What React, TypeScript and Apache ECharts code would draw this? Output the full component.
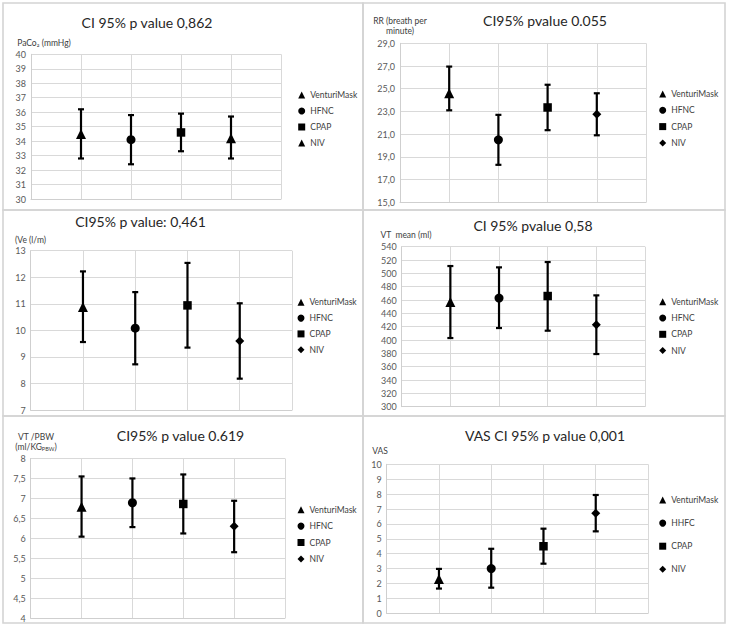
import React, { useEffect, useRef } from 'react';
import * as echarts from 'echarts';

// ---------- data ----------
const groups = ['VenturiMask', 'HFNC', 'CPAP', 'NIV'];
const groupsVas = ['VenturiMask', 'HHFC', 'CPAP', 'NIV'];
const xPositions = [1, 2, 3, 4];

const titles = [
  'CI 95% p value 0,862',
  'CI95% pvalue 0.055',
  'CI95% p value: 0,461',
  'CI 95% pvalue 0,58',
  'CI95% p value 0.619',
  'VAS CI 95% p value 0,001',
];

const paco2Mean = [34.5, 34.1, 34.6, 34.2];
const paco2Low = [32.8, 32.4, 33.3, 32.8];
const paco2High = [36.2, 35.8, 35.9, 35.7];

const rrMean = [24.6, 20.5, 23.35, 22.75];
const rrLow = [23.1, 18.3, 21.35, 20.9];
const rrHigh = [26.95, 22.7, 25.35, 24.6];

const veMean = [10.88, 10.08, 10.94, 9.6];
const veLow = [9.56, 8.72, 9.35, 8.18];
const veHigh = [12.22, 11.44, 12.54, 11.02];

const vtMean = [457, 463, 466, 423];
const vtLow = [403, 418, 414, 379];
const vtHigh = [511, 509, 517, 467];

const vtPbwMean = [6.79, 6.89, 6.86, 6.3];
const vtPbwLow = [6.04, 6.28, 6.12, 5.65];
const vtPbwHigh = [7.55, 7.5, 7.6, 6.94];

const vasMean = [2.3, 3.0, 4.5, 6.72];
const vasLow = [1.66, 1.72, 3.33, 5.5];
const vasHigh = [2.98, 4.33, 5.68, 7.94];

// ---------- layout / style ----------
const comma = (v: number) => String(v).replace('.', ',');
const comma1 = (v: number) => v.toFixed(1).replace('.', ',');

const FONT = 'Lato';

const panels = [
  {
    title: titles[0], names: groups, mean: paco2Mean, low: paco2Low, high: paco2High,
    symbols: ['triangle', 'circle', 'rect', 'triangle'],
    yMin: 30, yMax: 40, yInt: 1, fmt: (v: number) => String(v),
    grid: { left: 31, top: 54.3, width: 250, height: 144.7 },
    box: { x: 3, y: 3, w: 360, h: 207 },
    titleXY: [147, 22],
    yName: { text: 'PaCo₂ (mmHg)', x: 44, y: 43 },
    legend: { x: 301.7, y: 95, step: 16 },
  },
  {
    title: titles[1], names: groups, mean: rrMean, low: rrLow, high: rrHigh,
    symbols: ['triangle', 'circle', 'rect', 'diamond'],
    yMin: 15, yMax: 29, yInt: 2, fmt: comma1,
    grid: { left: 400, top: 43.3, width: 246, height: 159 },
    box: { x: 363, y: 3, w: 362, h: 207 },
    titleXY: [545, 20],
    yName: { text: 'RR (breath per\nminute)', x: 400, y: 26 },
    legend: { x: 662.7, y: 94, step: 16.3 },
  },
  {
    title: titles[2], names: groups, mean: veMean, low: veLow, high: veHigh,
    symbols: ['triangle', 'circle', 'rect', 'diamond'],
    yMin: 7, yMax: 13, yInt: 1, fmt: (v: number) => String(v),
    grid: { left: 30.7, top: 250.7, width: 261.3, height: 159.3 },
    box: { x: 3, y: 210, w: 360, h: 206 },
    titleXY: [140.5, 221],
    yName: { text: '(Ve (l/m)', x: 30.5, y: 240 },
    legend: { x: 301, y: 302.3, step: 15.8 },
  },
  {
    title: titles[3], names: groups, mean: vtMean, low: vtLow, high: vtHigh,
    symbols: ['triangle', 'circle', 'rect', 'diamond'],
    yMin: 300, yMax: 540, yInt: 20, fmt: (v: number) => String(v),
    grid: { left: 401.7, top: 246.7, width: 243.3, height: 160 },
    box: { x: 363, y: 210, w: 362, h: 206 },
    titleXY: [533, 225],
    yName: { text: 'VT  mean (ml)', x: 406, y: 235 },
    legend: { x: 662.7, y: 301.7, step: 16.3 },
  },
  {
    title: titles[4], names: groups, mean: vtPbwMean, low: vtPbwLow, high: vtPbwHigh,
    symbols: ['triangle', 'circle', 'rect', 'diamond'],
    yMin: 4, yMax: 8, yInt: 0.5, fmt: comma,
    grid: { left: 30.7, top: 458.5, width: 254.3, height: 159.5 },
    box: { x: 3, y: 416, w: 360, h: 207 },
    titleXY: [180.5, 435],
    yName: { text: 'VT /PBW\n(ml/KG{sub|PBW})', x: 36, y: 441.5 },
    legend: { x: 301, y: 509.7, step: 16.4 },
  },
  {
    title: titles[5], names: groupsVas, mean: vasMean, low: vasLow, high: vasHigh,
    symbols: ['triangle', 'circle', 'rect', 'diamond'],
    yMin: 0, yMax: 10, yInt: 1, fmt: (v: number) => String(v),
    grid: { left: 386.7, top: 464.3, width: 261.3, height: 149 },
    box: { x: 363, y: 416, w: 362, h: 207 },
    titleXY: [545, 435],
    yName: { text: 'VAS', x: 380, y: 451 },
    legend: { x: 662.7, y: 500, step: 23.1 },
  },
];

const symbolSizes: Record<string, number> = { triangle: 10, circle: 9, rect: 8.5, diamond: 9 };
const GRID_COLOR = '#d9d9d9';

function buildOption() {
  const grid: any[] = [];
  const xAxis: any[] = [];
  const yAxis: any[] = [];
  const series: any[] = [];
  const legend: any[] = [];
  const graphic: any[] = [];

  panels.forEach((p, i) => {
    grid.push({ ...p.grid, containLabel: false });
    xAxis.push({
      type: 'value', gridIndex: i, min: 0, max: 5, interval: 1,
      axisLabel: { show: false }, axisTick: { show: false },
      axisLine: { show: true, lineStyle: { color: '#cfcfcf', width: 1 } },
      splitLine: { show: true, lineStyle: { color: GRID_COLOR, width: 1 } },
    });
    yAxis.push({
      type: 'value', gridIndex: i, min: p.yMin, max: p.yMax, interval: p.yInt,
      axisTick: { show: false },
      axisLine: { show: true, lineStyle: { color: '#cfcfcf', width: 1 } },
      splitLine: { show: true, lineStyle: { color: GRID_COLOR, width: 1 } },
      axisLabel: { formatter: p.fmt, fontSize: 9, fontFamily: FONT, color: '#595959', margin: 5 },
    });
    series.push({
      type: 'custom', name: 'ci-' + i, xAxisIndex: i, yAxisIndex: i, silent: true, z: 2,
      data: xPositions.map((x, k) => [x, p.low[k], p.high[k]]),
      encode: { x: 0, y: [1, 2] },
      renderItem: (params: any, api: any) => {
        const x = api.value(0);
        const lo = api.coord([x, api.value(1)]);
        const hi = api.coord([x, api.value(2)]);
        const cw = 3;
        const st = { stroke: '#000', lineWidth: 2.2 };
        return {
          type: 'group',
          children: [
            { type: 'line', shape: { x1: lo[0], y1: lo[1], x2: hi[0], y2: hi[1] }, style: st },
            { type: 'line', shape: { x1: lo[0] - cw, y1: lo[1], x2: lo[0] + cw, y2: lo[1] }, style: st },
            { type: 'line', shape: { x1: hi[0] - cw, y1: hi[1], x2: hi[0] + cw, y2: hi[1] }, style: st },
          ],
        };
      },
    });
    p.names.forEach((n, k) => {
      series.push({
        type: 'scatter', name: n, xAxisIndex: i, yAxisIndex: i, z: 3,
        symbol: p.symbols[k], symbolSize: symbolSizes[p.symbols[k]],
        itemStyle: { color: '#000', opacity: 1 },
        data: [[xPositions[k], p.mean[k]]],
      });
    });
    legend.push({
      orient: 'vertical', left: p.legend.x - 3.5, top: p.legend.y - 5,
      itemWidth: 7, itemHeight: 7, itemGap: p.legend.step - 10, padding: 0,
      selectedMode: false,
      data: p.names.map((n, k) => ({ name: n, icon: p.symbols[k] })),
      itemStyle: { color: '#000' },
      textStyle: { fontSize: 8.5, fontFamily: FONT, color: '#404040', lineHeight: 10 },
    });
    graphic.push({
      type: 'rect', silent: true, z: 0,
      shape: { x: p.box.x, y: p.box.y, width: p.box.w, height: p.box.h },
      style: { fill: 'none', stroke: '#d4d4d4', lineWidth: 1.6 },
    });
    graphic.push({
      type: 'text', silent: true, x: p.titleXY[0], y: p.titleXY[1],
      style: {
        text: p.title, fontSize: 14, fontFamily: FONT, fill: '#262626',
        align: 'center', verticalAlign: 'middle',
      },
    });
    graphic.push({
      type: 'text', silent: true, x: p.yName.x, y: p.yName.y,
      style: {
        text: p.yName.text, fontSize: 8.5, fontFamily: FONT, fill: '#404040', lineHeight: 10,
        align: 'center', verticalAlign: 'middle',
        rich: { sub: { fontSize: 5.5, lineHeight: 4, verticalAlign: 'bottom', fontFamily: FONT, fill: '#404040' } },
      },
    });
  });

  return {
    animation: false,
    backgroundColor: '#ffffff',
    grid, xAxis, yAxis, series, legend, graphic,
  };
}

export default function App() {
  const ref = useRef<HTMLDivElement>(null);
  useEffect(() => {
    if (!ref.current) return;
    const chart = echarts.init(ref.current, undefined, { renderer: 'svg' });
    chart.setOption(buildOption() as any);
    return () => chart.dispose();
  }, []);
  return (
    <div
      ref={ref}
      style={{ position: 'absolute', left: 0, top: 0, width: 729, height: 628, background: '#fff' }}
    />
  );
}
